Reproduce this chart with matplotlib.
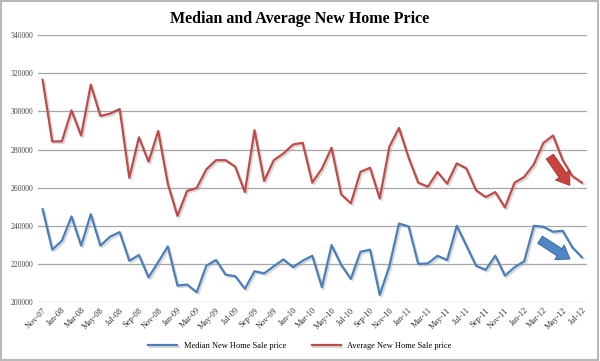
import matplotlib
matplotlib.use('agg')
import matplotlib.pyplot as plt
import matplotlib.patheffects as pe
from matplotlib.patches import Rectangle

# monthly data, Nov-07 .. Jul-12
months = ['Nov-07', 'Dec-07', 'Jan-08', 'Feb-08', 'Mar-08', 'Apr-08', 'May-08', 'Jun-08',
          'Jul-08', 'Aug-08', 'Sep-08', 'Oct-08', 'Nov-08', 'Dec-08', 'Jan-09', 'Feb-09',
          'Mar-09', 'Apr-09', 'May-09', 'Jun-09', 'Jul-09', 'Aug-09', 'Sep-09', 'Oct-09',
          'Nov-09', 'Dec-09', 'Jan-10', 'Feb-10', 'Mar-10', 'Apr-10', 'May-10', 'Jun-10',
          'Jul-10', 'Aug-10', 'Sep-10', 'Oct-10', 'Nov-10', 'Dec-10', 'Jan-11', 'Feb-11',
          'Mar-11', 'Apr-11', 'May-11', 'Jun-11', 'Jul-11', 'Aug-11', 'Sep-11', 'Oct-11',
          'Nov-11', 'Dec-11', 'Jan-12', 'Feb-12', 'Mar-12', 'Apr-12', 'May-12', 'Jun-12',
          'Jul-12']

median_price = [248700, 227500, 232200, 244900, 229600, 246100, 229600, 234300,
                236700, 221700, 224700, 213000, 221000, 229200, 208700, 209200,
                205200, 219100, 222100, 214400, 213600, 207000, 216200, 215100,
                218800, 222400, 218300, 221700, 224300, 207800, 229900, 219500,
                212200, 226400, 227500, 203800, 218800, 241200, 239700, 220000,
                220300, 224300, 222100, 240000, 229600, 219100, 216900, 224300,
                213900, 218300, 221400, 240000, 239500, 236900, 237400, 228700,
                223500]

average_price = [316500, 284200, 284300, 300500, 287300, 314000, 297600, 298800,
                 301200, 265200, 286400, 273600, 289700, 262000, 245200, 258300,
                 259800, 269600, 274400, 274400, 271000, 257700, 290100, 263500,
                 274400, 277900, 282600, 283500, 262600, 270000, 280900, 256500,
                 251800, 268300, 270400, 254300, 281400, 291300, 275700, 262600,
                 260500, 268200, 262100, 272700, 270100, 258600, 255100, 257700,
                 249600, 262600, 265600, 272200, 283500, 287300, 274400, 266100,
                 262600]

yticks = [200000, 220000, 240000, 260000, 280000, 300000, 320000, 340000]

serif = ['Liberation Serif', 'DejaVu Serif']
blue = '#4a7ebb'
red = '#be4b48'

fig = plt.figure(figsize=(6, 3.61), dpi=100)
fig.patches.append(Rectangle((0.002, 0.003), 0.995, 0.994, transform=fig.transFigure,
                             fill=False, ec='#b8b8b8', lw=1.5))
ax = fig.add_axes([0.063, 0.163, 0.915, 0.74])

x = list(range(len(months)))
shadow = [pe.SimpleLineShadow(offset=(1.2, -1.2), shadow_color='#aaaaaa', alpha=0.45), pe.Normal()]
ax.plot(x, median_price, color=blue, lw=1.6, label='Median New Home Sale price',
        path_effects=shadow, zorder=3)
ax.plot(x, average_price, color=red, lw=1.6, label='Average New Home Sale price',
        path_effects=shadow, zorder=3)

ax.set_xlim(-0.5, len(months) - 0.5)
ax.set_ylim(200000, 340000)
ax.set_yticks(yticks)
ax.set_yticklabels([str(v) for v in yticks], family=serif, fontsize=5.5, color='#444444')
ax.set_xticks(x[::2])
ax.set_xticklabels(months[::2], rotation=45, ha='right', rotation_mode='anchor',
                   family=serif, fontsize=6, color='#333333')
ax.tick_params(length=0, pad=3)
ax.grid(axis='y', color='#a6a6a6', lw=0.9)
ax.set_axisbelow(True)
for s in ax.spines.values():
    s.set_visible(False)

# trend arrows
arrow_style = 'simple,head_width=1.25,head_length=0.9,tail_width=0.62'
ax.annotate('', xy=(54.9, 260000), xytext=(52.5, 277500),
            arrowprops=dict(arrowstyle=arrow_style, fc='#c9443f', ec='#9e2f2b', lw=0.6))
ax.annotate('', xy=(55.0, 221800), xytext=(51.4, 233500),
            arrowprops=dict(arrowstyle=arrow_style, fc='#4f86c6', ec='#2f5f99', lw=0.6))

fig.suptitle('Median and Average New Home Price', y=0.97, fontsize=11.5,
             fontweight='bold', family=serif)
fig.legend(loc='lower center', bbox_to_anchor=(0.5, 0.01), ncol=2, frameon=False,
           prop={'family': serif, 'size': 6}, handlelength=3.5, columnspacing=3)

fig.savefig('out.png', dpi=100)
